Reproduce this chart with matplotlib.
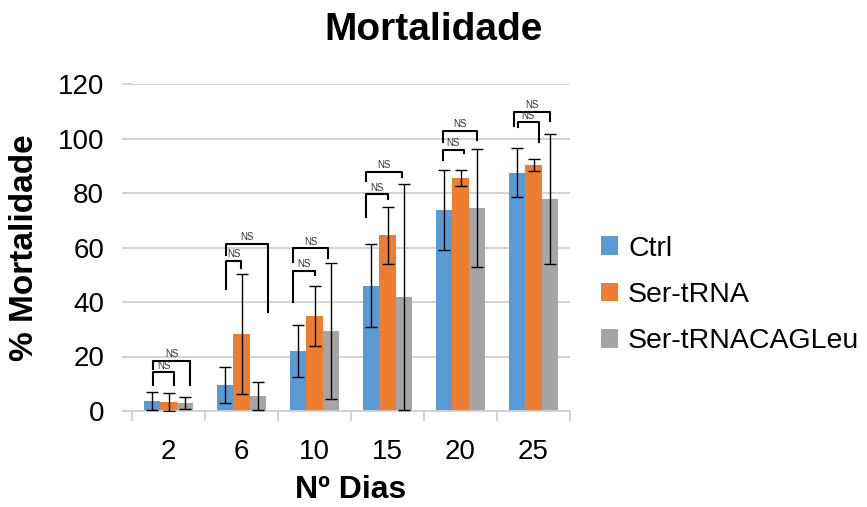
import numpy as np
import matplotlib.pyplot as plt

# ---- data ----
dias = ["2", "6", "10", "15", "20", "25"]
series_names = ["Ctrl", "Ser-tRNA", "Ser-tRNACAGLeu"]

ctrl = [3.7, 9.5, 22.0, 46.0, 73.8, 87.5]
ctrl_err = [3.4, 6.5, 9.7, 15.3, 14.7, 9.0]
ser_trna = [3.4, 28.1, 35.0, 64.5, 85.5, 90.3]
ser_trna_err = [3.3, 22.0, 11.0, 10.4, 3.0, 2.2]
ser_cag = [2.9, 5.5, 29.4, 41.8, 74.5, 77.8]
ser_cag_err = [2.3, 5.0, 25.0, 41.5, 21.8, 24.0]

# significance brackets per day group:
# (inner: left x, right x, top, left leg end, right leg end), (outer: same)
# x offsets in category units relative to the group centre
inner_brackets = [
    (-0.212, 0.082, 14.2, 9.5, 9.5),
    (-0.208, -0.007, 55.2, 44.8, 52.3),
    (-0.292, 0.004, 51.5, 40.1, 49.9),
    (-0.291, 0.010, 79.5, 71.2, 77.7),
    (-0.243, 0.044, 95.8, 92.1, 94.7),
    (-0.219, 0.078, 105.9, 104.3, 98.8),
]
outer_brackets = [
    (-0.212, 0.296, 18.3, 15.4, 9.5),
    (-0.208, 0.357, 61.3, 57.2, 36.4),
    (-0.292, 0.186, 59.7, 54.8, 56.0),
    (-0.291, 0.193, 87.8, 84.5, 86.0),
    (-0.243, 0.225, 102.8, 98.8, 99.4),
    (-0.264, 0.228, 109.8, 104.6, 106.5),
]

colors = ["#5B9BD5", "#ED7D31", "#A5A5A5"]
grid_col = "#D0D0D0"

plt.rcParams["font.family"] = ["Liberation Sans", "DejaVu Sans"]

fig = plt.figure(figsize=(8.67, 5.07), dpi=100)
ax = fig.add_axes([132 / 867, 96 / 507, 438 / 867, 327 / 507])

x = np.arange(len(dias))
w = 0.222
for k, (vals, errs) in enumerate([(ctrl, ctrl_err), (ser_trna, ser_trna_err), (ser_cag, ser_cag_err)]):
    ax.bar(x + (k - 1) * w, vals, w, color=colors[k], label=series_names[k], zorder=2)
    ax.errorbar(x + (k - 1) * w, vals, yerr=errs, fmt="none", ecolor="black",
                elinewidth=1, capsize=4, capthick=1, zorder=3)


def bracket(cx, spec):
    xl, xr, top, lb, rb = spec
    ax.plot([cx + xl, cx + xl, cx + xr, cx + xr], [lb, top, top, rb],
            color="black", lw=1.5, zorder=4, clip_on=False)
    ax.text(cx + (xl + xr) / 2, top + 0.6, "NS", ha="center", va="bottom",
            fontsize=7, color="#333333", zorder=5)


for i in range(len(dias)):
    bracket(x[i], inner_brackets[i])
    bracket(x[i], outer_brackets[i])

ax.set_xlim(-0.5, len(dias) - 0.5)
ax.set_ylim(0, 120)
ax.set_yticks(np.arange(0, 121, 20))
ax.yaxis.grid(True, color=grid_col, lw=1.3, zorder=0)
ax.set_axisbelow(True)

ax.set_xticks(x)
ax.set_xticklabels(dias)
ax.set_xticks(np.arange(-0.5, len(dias), 1), minor=True)
ax.tick_params(axis="x", which="major", length=0, pad=20, labelsize=20)
ax.tick_params(axis="x", which="minor", length=7, width=1.3, color=grid_col)
ax.tick_params(axis="y", length=7, width=1.3, color=grid_col, pad=13, labelsize=20)

for side in ["top", "right", "left"]:
    ax.spines[side].set_visible(False)
ax.spines["bottom"].set_color(grid_col)
ax.spines["bottom"].set_linewidth(1.3)

fig.text(0.5, 1 - 30 / 507, "Mortalidade", ha="center", va="center",
         fontsize=28, fontweight="bold")
fig.text(351 / 867, 1 - 490 / 507, "Nº Dias", ha="center", va="center",
         fontsize=23, fontweight="bold")
fig.text(25 / 867, 1 - 248 / 507, "% Mortalidade", ha="center", va="center",
         rotation=90, fontsize=24, fontweight="bold")

fig.legend(loc="center left", bbox_to_anchor=(601 / 867, 1 - 295 / 507),
           frameon=False, fontsize=20.5, handlelength=0.6, handleheight=0.6,
           handletextpad=0.35, labelspacing=0.72, borderaxespad=0, borderpad=0)

fig.savefig("out.png", dpi=100)
